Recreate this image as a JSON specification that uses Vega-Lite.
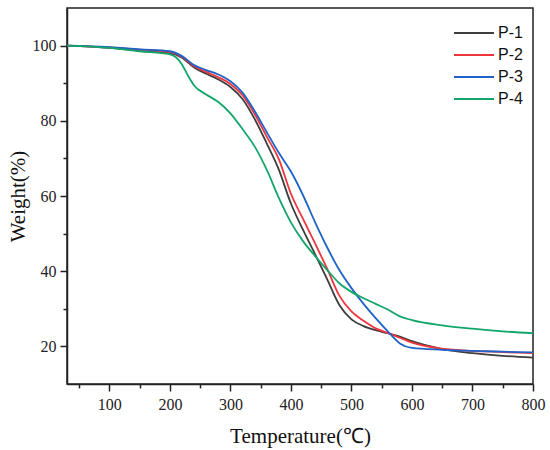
{
  "$schema": "https://vega.github.io/schema/vega-lite/v6.json",
  "width": 466,
  "height": 376,
  "autosize": "none",
  "padding": {"left": 67, "top": 8, "right": 17, "bottom": 66},
  "background": "white",
  "config": {
    "view": {"stroke": "#222", "strokeWidth": 1.5},
    "axis": {
      "grid": false,
      "domainColor": "#222",
      "domainWidth": 1.5,
      "tickColor": "#222",
      "tickWidth": 1.5,
      "labelFont": "Liberation Serif",
      "labelFontSize": 16,
      "labelColor": "#222",
      "titleFont": "Liberation Serif",
      "titleFontSize": 21,
      "titleFontWeight": "normal",
      "titleColor": "#111"
    }
  },
  "data": {
    "values": [
      {"sample": "P-1", "temperature": 30, "weight": 100},
      {"sample": "P-1", "temperature": 100, "weight": 99.4},
      {"sample": "P-1", "temperature": 150, "weight": 98.6},
      {"sample": "P-1", "temperature": 200, "weight": 98.0},
      {"sample": "P-1", "temperature": 220, "weight": 96.8},
      {"sample": "P-1", "temperature": 240, "weight": 94.2},
      {"sample": "P-1", "temperature": 260, "weight": 92.5},
      {"sample": "P-1", "temperature": 280, "weight": 91.0},
      {"sample": "P-1", "temperature": 300, "weight": 89.0},
      {"sample": "P-1", "temperature": 320, "weight": 85.8},
      {"sample": "P-1", "temperature": 340, "weight": 80.5},
      {"sample": "P-1", "temperature": 360, "weight": 74.0},
      {"sample": "P-1", "temperature": 380, "weight": 67.0},
      {"sample": "P-1", "temperature": 400, "weight": 58.0},
      {"sample": "P-1", "temperature": 420, "weight": 51.0},
      {"sample": "P-1", "temperature": 440, "weight": 44.5},
      {"sample": "P-1", "temperature": 460, "weight": 37.8},
      {"sample": "P-1", "temperature": 480, "weight": 31.0},
      {"sample": "P-1", "temperature": 500, "weight": 27.2},
      {"sample": "P-1", "temperature": 520, "weight": 25.4},
      {"sample": "P-1", "temperature": 540, "weight": 24.3},
      {"sample": "P-1", "temperature": 560, "weight": 23.5},
      {"sample": "P-1", "temperature": 580, "weight": 22.6},
      {"sample": "P-1", "temperature": 600, "weight": 21.4},
      {"sample": "P-1", "temperature": 650, "weight": 19.3},
      {"sample": "P-1", "temperature": 700, "weight": 18.2},
      {"sample": "P-1", "temperature": 750, "weight": 17.5},
      {"sample": "P-1", "temperature": 800, "weight": 17.0},
      {"sample": "P-2", "temperature": 30, "weight": 100},
      {"sample": "P-2", "temperature": 100, "weight": 99.5},
      {"sample": "P-2", "temperature": 150, "weight": 98.9},
      {"sample": "P-2", "temperature": 200, "weight": 98.3},
      {"sample": "P-2", "temperature": 220, "weight": 97.0},
      {"sample": "P-2", "temperature": 240, "weight": 94.5},
      {"sample": "P-2", "temperature": 260, "weight": 93.0},
      {"sample": "P-2", "temperature": 280, "weight": 91.6},
      {"sample": "P-2", "temperature": 300, "weight": 89.8},
      {"sample": "P-2", "temperature": 320, "weight": 86.8},
      {"sample": "P-2", "temperature": 340, "weight": 81.8},
      {"sample": "P-2", "temperature": 360, "weight": 75.8},
      {"sample": "P-2", "temperature": 380, "weight": 69.8},
      {"sample": "P-2", "temperature": 400, "weight": 60.6},
      {"sample": "P-2", "temperature": 420, "weight": 53.9},
      {"sample": "P-2", "temperature": 440, "weight": 47.4},
      {"sample": "P-2", "temperature": 460, "weight": 40.6},
      {"sample": "P-2", "temperature": 480, "weight": 33.5},
      {"sample": "P-2", "temperature": 500, "weight": 29.3},
      {"sample": "P-2", "temperature": 520, "weight": 26.8},
      {"sample": "P-2", "temperature": 540, "weight": 24.8},
      {"sample": "P-2", "temperature": 560, "weight": 23.6},
      {"sample": "P-2", "temperature": 580, "weight": 22.3},
      {"sample": "P-2", "temperature": 600, "weight": 21.0},
      {"sample": "P-2", "temperature": 650, "weight": 19.4},
      {"sample": "P-2", "temperature": 700, "weight": 18.8},
      {"sample": "P-2", "temperature": 750, "weight": 18.5},
      {"sample": "P-2", "temperature": 800, "weight": 18.2},
      {"sample": "P-3", "temperature": 30, "weight": 100},
      {"sample": "P-3", "temperature": 100, "weight": 99.6},
      {"sample": "P-3", "temperature": 150, "weight": 99.0},
      {"sample": "P-3", "temperature": 200, "weight": 98.5},
      {"sample": "P-3", "temperature": 220, "weight": 97.2},
      {"sample": "P-3", "temperature": 240, "weight": 94.8},
      {"sample": "P-3", "temperature": 260, "weight": 93.5},
      {"sample": "P-3", "temperature": 280, "weight": 92.3},
      {"sample": "P-3", "temperature": 300, "weight": 90.5},
      {"sample": "P-3", "temperature": 320, "weight": 87.5},
      {"sample": "P-3", "temperature": 340, "weight": 82.6},
      {"sample": "P-3", "temperature": 360, "weight": 77.0},
      {"sample": "P-3", "temperature": 380, "weight": 71.5},
      {"sample": "P-3", "temperature": 400, "weight": 66.5},
      {"sample": "P-3", "temperature": 420, "weight": 60.2},
      {"sample": "P-3", "temperature": 440, "weight": 53.0},
      {"sample": "P-3", "temperature": 460, "weight": 46.3},
      {"sample": "P-3", "temperature": 480, "weight": 40.3},
      {"sample": "P-3", "temperature": 500, "weight": 35.5},
      {"sample": "P-3", "temperature": 520, "weight": 31.3},
      {"sample": "P-3", "temperature": 540, "weight": 27.5},
      {"sample": "P-3", "temperature": 560, "weight": 24.0},
      {"sample": "P-3", "temperature": 580, "weight": 20.8},
      {"sample": "P-3", "temperature": 600, "weight": 19.6},
      {"sample": "P-3", "temperature": 650, "weight": 19.1},
      {"sample": "P-3", "temperature": 700, "weight": 18.8},
      {"sample": "P-3", "temperature": 750, "weight": 18.6},
      {"sample": "P-3", "temperature": 800, "weight": 18.4},
      {"sample": "P-4", "temperature": 30, "weight": 100},
      {"sample": "P-4", "temperature": 100, "weight": 99.4},
      {"sample": "P-4", "temperature": 150, "weight": 98.5},
      {"sample": "P-4", "temperature": 200, "weight": 97.7},
      {"sample": "P-4", "temperature": 210, "weight": 96.9},
      {"sample": "P-4", "temperature": 220, "weight": 95.0},
      {"sample": "P-4", "temperature": 230, "weight": 92.0},
      {"sample": "P-4", "temperature": 240, "weight": 89.4},
      {"sample": "P-4", "temperature": 260, "weight": 87.0},
      {"sample": "P-4", "temperature": 280, "weight": 85.0},
      {"sample": "P-4", "temperature": 300, "weight": 82.0},
      {"sample": "P-4", "temperature": 320, "weight": 77.8},
      {"sample": "P-4", "temperature": 340, "weight": 73.2},
      {"sample": "P-4", "temperature": 360, "weight": 67.0},
      {"sample": "P-4", "temperature": 380, "weight": 59.5},
      {"sample": "P-4", "temperature": 400, "weight": 53.0},
      {"sample": "P-4", "temperature": 420, "weight": 48.0},
      {"sample": "P-4", "temperature": 440, "weight": 44.0},
      {"sample": "P-4", "temperature": 460, "weight": 40.3},
      {"sample": "P-4", "temperature": 480, "weight": 36.8},
      {"sample": "P-4", "temperature": 500, "weight": 34.5},
      {"sample": "P-4", "temperature": 520, "weight": 32.8},
      {"sample": "P-4", "temperature": 540, "weight": 31.3},
      {"sample": "P-4", "temperature": 560, "weight": 29.8},
      {"sample": "P-4", "temperature": 580, "weight": 28.0},
      {"sample": "P-4", "temperature": 600, "weight": 27.0},
      {"sample": "P-4", "temperature": 650, "weight": 25.6},
      {"sample": "P-4", "temperature": 700, "weight": 24.7},
      {"sample": "P-4", "temperature": 750, "weight": 24.0},
      {"sample": "P-4", "temperature": 800, "weight": 23.5}
    ]
  },
  "mark": {"type": "line", "interpolate": "monotone", "strokeWidth": 1.8, "clip": true},
  "encoding": {
    "x": {
      "field": "temperature",
      "type": "quantitative",
      "title": "Temperature(℃)",
      "scale": {"domain": [30, 800], "nice": false, "zero": false},
      "axis": {
        "values": [50, 100, 150, 200, 250, 300, 350, 400, 450, 500, 550, 600, 650, 700, 750, 800],
        "labelExpr": "datum.value % 100 === 0 ? datum.label : ''",
        "labelFont": "Liberation Serif",
        "labelFontSize": 16,
        "tickSize": {"condition": {"test": "datum.value % 100 === 0", "value": 7}, "value": 4},
        "labelPadding": 5,
        "titlePadding": 13,
        "labelFlush": false
      }
    },
    "y": {
      "field": "weight",
      "type": "quantitative",
      "title": "Weight(%)",
      "scale": {"domain": [10, 110], "nice": false, "zero": false},
      "axis": {
        "values": [20, 30, 40, 50, 60, 70, 80, 90, 100],
        "labelExpr": "datum.value % 20 === 0 ? datum.label : ''",
        "labelFont": "Liberation Serif",
        "labelFontSize": 16,
        "tickSize": {"condition": {"test": "datum.value % 20 === 0", "value": 7}, "value": 4},
        "labelPadding": 4,
        "titlePadding": 4,
        "labelFlush": false
      }
    },
    "color": {
      "field": "sample",
      "type": "nominal",
      "scale": {
        "domain": ["P-1", "P-2", "P-3", "P-4"],
        "range": ["#3d3d3d", "#f0343c", "#1f62c8", "#12a66a"]
      },
      "legend": {
        "title": null,
        "orient": "none",
        "legendX": 399,
        "legendY": 17,
        "padding": 0,
        "symbolType": "M-8,0H8",
        "symbolSize": 25,
        "symbolStrokeWidth": 1.8,
        "labelFont": "Liberation Sans",
        "labelFontSize": 16,
        "labelColor": "#111",
        "labelOffset": 16,
        "rowPadding": 6
      }
    }
  }
}
